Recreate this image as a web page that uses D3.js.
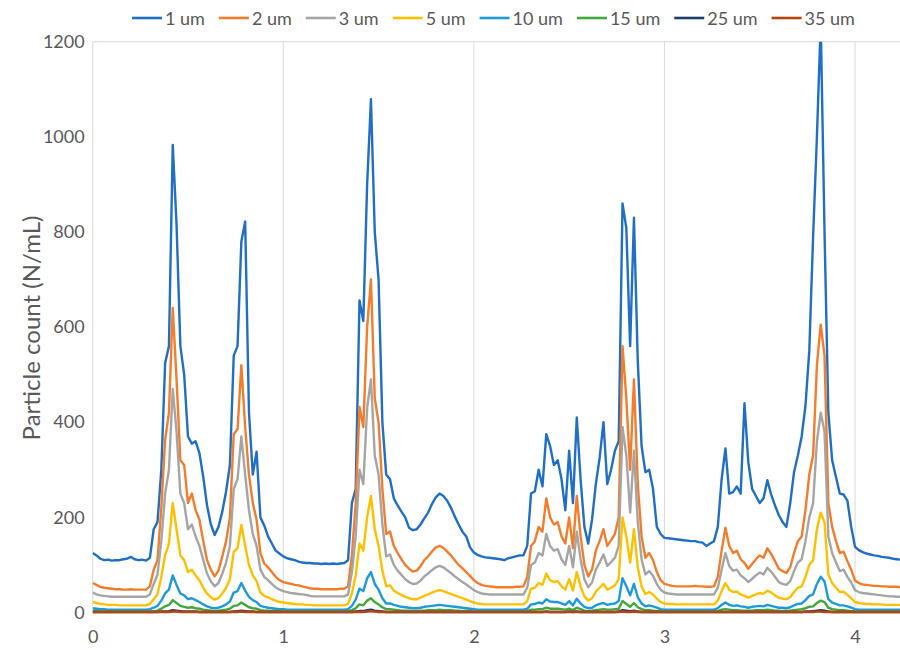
<!DOCTYPE html>
<html><head><meta charset="utf-8">
<script src="https://cdn.jsdelivr.net/npm/d3@7"></script>
<style>
body{margin:0;background:#fff}
text{font-family:Lato,"Open Sans",sans-serif}
</style>
</head><body>
<svg id="chart" width="900" height="657"></svg>
<script>
const seriesNames = ["1 um","2 um","3 um","5 um","10 um","15 um","25 um","35 um"];
const seriesColors = ["#1f6fc6","#f47d2c","#a5a5a5","#ffc000","#1e9ad9","#43a83b","#1f3e6e","#b5450d"];
const yTicks = [0,200,400,600,800,1000,1200];
const xTicks = [0,1,2,3,4];
const timeStep = 0.02;

const um1 = [125,120,113,110,111,109,110,110,112,113,
117,112,110,111,109,115,175,190,300,524,
560,983,815,560,500,370,355,360,335,285,
225,185,163,180,212,255,310,540,560,780,
822,420,290,338,200,183,160,145,130,124,
118,114,112,110,107,105,104,104,103,103,
102,103,102,103,102,103,104,110,230,260,
656,613,900,1079,800,700,400,290,280,240,
225,212,200,178,173,175,185,198,210,228,
242,250,245,235,220,202,185,170,160,137,
126,121,118,116,115,114,113,112,110,114,
116,118,120,120,140,250,255,300,265,375,
350,310,320,280,215,340,230,410,280,180,
145,195,270,325,400,270,300,340,360,860,
808,560,830,530,350,295,300,260,180,165,
157,156,155,154,153,152,151,150,150,148,
147,140,145,150,180,280,345,250,253,265,
250,440,316,260,245,230,240,278,248,225,
205,190,180,230,295,330,370,435,550,790,
1000,1240,800,420,320,285,250,248,235,180,
138,131,127,124,122,120,119,117,116,115,
113,112,111];

const um2 = [62,58,54,52,51,50,49,49,48,48,
49,48,48,48,48,55,90,110,220,363,
420,640,490,320,310,230,250,215,195,150,
110,90,76,88,118,150,200,375,385,520,
390,290,230,195,125,103,95,85,75,68,
64,62,60,58,57,55,53,51,50,50,
49,49,49,49,49,50,50,55,120,230,
432,390,600,700,450,400,260,165,170,140,
125,112,100,92,86,88,97,110,118,128,
137,140,136,128,120,110,100,93,85,77,
68,62,58,56,55,54,53,53,53,53,
53,54,54,55,75,140,150,180,170,240,
200,185,190,160,145,200,135,245,160,100,
76,90,130,150,175,140,152,165,200,560,
450,300,490,270,160,115,125,110,85,68,
60,58,56,55,55,55,55,55,56,55,
55,54,54,55,75,130,178,140,125,130,
112,104,92,102,112,120,115,135,123,108,
92,87,83,95,125,150,160,215,290,330,
520,605,540,230,180,150,125,128,108,90,
67,62,59,58,57,56,56,55,55,54,
54,54,53];

const um3 = [42,38,36,35,34,33,33,33,33,33,
33,33,33,33,33,38,60,80,150,250,
300,470,380,250,230,175,185,160,140,110,
82,65,55,62,82,105,140,260,280,370,
290,215,165,140,90,75,68,60,53,48,
45,43,41,40,39,38,37,35,34,34,
34,34,34,34,34,34,34,38,85,160,
300,270,430,490,330,290,185,118,122,100,
88,79,70,64,60,61,67,76,82,89,
95,98,95,89,83,76,70,64,59,53,
47,43,40,39,38,38,38,38,38,38,
38,38,38,38,52,100,105,125,120,165,
140,130,133,112,100,140,95,170,112,70,
53,63,90,105,122,98,106,115,140,390,
330,210,340,190,112,80,87,77,60,48,
42,40,39,38,38,38,38,38,38,38,
38,38,38,38,52,90,125,98,88,90,
78,72,64,71,78,84,80,94,86,75,
64,60,58,66,87,105,112,150,200,230,
360,420,380,160,125,105,87,90,75,63,
47,43,41,40,39,38,37,36,35,34,
34,33,33];

const um5 = [22,20,18,17,16,16,16,15,15,15,
15,15,15,15,15,18,28,38,75,120,
145,230,175,120,110,85,90,78,68,52,
40,32,27,30,40,52,70,128,135,184,
140,100,78,66,42,35,32,28,25,22,
21,20,19,18,17,17,16,16,15,15,
15,15,15,15,15,15,15,18,40,78,
145,130,200,245,175,140,88,55,57,46,
41,37,33,30,28,28,31,35,38,42,
45,47,45,42,39,36,33,30,27,24,
21,19,18,17,17,17,17,17,17,17,
17,17,17,17,24,50,52,62,58,82,
68,64,66,55,48,70,46,85,55,34,
25,30,44,52,60,48,52,57,70,200,
160,105,175,95,55,39,43,38,29,22,
19,18,18,17,17,17,17,17,17,17,
17,17,17,17,25,45,62,48,43,44,
38,35,31,35,38,41,39,46,42,36,
31,29,28,32,43,52,55,75,100,110,
175,210,190,80,62,52,43,44,37,30,
22,20,19,18,18,17,17,17,16,16,
16,16,16];

const um10 = [9,8,7,7,6,6,6,6,6,6,
6,6,6,6,6,7,10,14,25,40,
48,78,58,40,36,28,30,26,22,17,
13,10,9,10,13,17,23,42,45,62,
46,33,26,22,14,12,10,9,8,7,
7,6,6,6,6,6,6,6,6,6,
6,6,6,6,6,6,6,7,14,27,
50,45,72,85,60,48,30,19,19,16,
14,12,11,10,9,9,10,12,13,14,
15,16,15,14,13,12,11,10,9,8,
7,6,6,6,6,6,6,6,6,6,
6,6,6,6,8,17,18,21,19,28,
23,22,22,19,16,24,15,29,19,12,
9,10,15,18,20,16,18,19,24,72,
55,36,60,32,19,13,15,13,10,7,
6,6,6,6,6,6,6,6,6,6,
6,6,6,6,9,16,21,16,14,15,
13,12,10,12,13,14,13,16,14,12,
10,10,9,11,15,18,19,26,35,38,
60,75,65,28,21,18,15,15,13,10,
7,6,6,6,6,6,6,6,6,6,
6,6,6];

const um15 = [3,3,2,2,2,2,2,2,2,2,
2,2,2,2,2,2,3,4,8,13,
16,26,20,14,12,10,11,9,8,6,
5,4,3,4,5,6,8,14,15,21,
16,11,9,8,5,4,4,3,3,3,
2,2,2,2,2,2,2,2,2,2,
2,2,2,2,2,2,2,3,5,9,
17,15,25,30,22,17,11,7,7,6,
5,4,4,4,3,3,4,4,5,5,
5,6,5,5,5,4,4,3,3,3,
2,2,2,2,2,2,2,2,2,2,
2,2,2,2,3,6,6,7,7,10,
8,8,8,7,6,8,5,10,7,4,
3,4,5,6,7,6,6,7,8,24,
18,12,20,11,7,5,5,4,3,3,
2,2,2,2,2,2,2,2,2,2,
2,2,2,2,3,6,7,6,5,5,
4,4,4,4,5,5,5,6,5,4,
4,3,3,4,5,6,7,9,12,13,
20,25,22,10,7,6,5,5,4,3,
2,2,2,2,2,2,2,2,2,2,
2,2,2];

const um25 = [1,1,1,1,1,1,1,1,1,1,
1,1,1,1,1,1,1,1,2,2,
3,5,4,3,2,2,2,2,1,1,
1,1,1,1,1,1,1,2,3,4,
3,2,2,1,1,1,1,1,1,1,
1,1,1,1,1,1,1,1,1,1,
1,1,1,1,1,1,1,1,1,2,
3,3,5,6,4,3,2,1,1,1,
1,1,1,1,1,1,1,1,1,1,
1,1,1,1,1,1,1,1,1,1,
1,1,1,1,1,1,1,1,1,1,
1,1,1,1,1,1,1,1,1,2,
1,1,1,1,1,2,1,2,1,1,
1,1,1,1,1,1,1,1,2,5,
4,3,4,2,1,1,1,1,1,1,
1,1,1,1,1,1,1,1,1,1,
1,1,1,1,1,1,1,1,1,1,
1,1,1,1,1,1,1,1,1,1,
1,1,1,1,1,1,1,2,2,3,
4,5,4,2,1,1,1,1,1,1,
1,1,1,1,1,1,1,1,1,1,
1,1,1];

const um35 = [1,1,1,1,1,1,1,1,1,1,
1,1,1,1,1,1,1,1,1,1,
1,2,2,1,1,1,1,1,1,1,
1,1,1,1,1,1,1,1,1,2,
1,1,1,1,1,1,1,1,1,1,
1,1,1,1,1,1,1,1,1,1,
1,1,1,1,1,1,1,1,1,1,
1,1,2,3,2,1,1,1,1,1,
1,1,1,1,1,1,1,1,1,1,
1,1,1,1,1,1,1,1,1,1,
1,1,1,1,1,1,1,1,1,1,
1,1,1,1,1,1,1,1,1,1,
1,1,1,1,1,1,1,1,1,1,
1,1,1,1,1,1,1,1,1,2,
1,1,2,1,1,1,1,1,1,1,
1,1,1,1,1,1,1,1,1,1,
1,1,1,1,1,1,1,1,1,1,
1,1,1,1,1,1,1,1,1,1,
1,1,1,1,1,1,1,1,1,1,
2,2,1,1,1,1,1,1,1,1,
1,1,1,1,1,1,1,1,1,1,
1,1,1];

const seriesValues = [um1, um2, um3, um5, um10, um15, um25, um35];
const time = um1.map((_, i) => +(i * timeStep).toFixed(2));

const svg = d3.select("#chart");
const plotLeft = 92.7, plotRight = 900, plotTop = 41.7, plotBottom = 612.5;
const x = d3.scaleLinear().domain([0, 4.236]).range([plotLeft, plotRight]);
const y = d3.scaleLinear().domain([0, 1200]).range([plotBottom, plotTop]);
const gridColor = "#d9d9d9", textColor = "#595959";

svg.append("g").selectAll("line").data(xTicks.filter(d => d > 0)).join("line")
  .attr("x1", d => x(d)).attr("x2", d => x(d))
  .attr("y1", plotTop).attr("y2", plotBottom)
  .attr("stroke", gridColor).attr("stroke-width", 1);
svg.append("line").attr("x1", plotLeft).attr("x2", plotRight).attr("y1", y(1200)).attr("y2", y(1200))
  .attr("stroke", gridColor);
svg.append("line").attr("x1", plotLeft).attr("x2", plotLeft).attr("y1", plotTop).attr("y2", plotBottom)
  .attr("stroke", gridColor);
svg.append("line").attr("x1", plotLeft).attr("x2", plotRight).attr("y1", plotBottom).attr("y2", plotBottom)
  .attr("stroke", gridColor);

const yAxis = svg.append("g").attr("transform", `translate(${plotLeft},0)`)
  .call(d3.axisLeft(y).tickValues(yTicks).tickSize(0).tickPadding(8).tickFormat(d3.format("d")));
yAxis.select(".domain").remove();
yAxis.selectAll("text").attr("font-size", 18).attr("fill", textColor).style("font-family", "Lato");

const xAxis = svg.append("g").attr("transform", `translate(0,${plotBottom})`)
  .call(d3.axisBottom(x).tickValues(xTicks).tickSize(0).tickPadding(18).tickFormat(d3.format("d")));
xAxis.select(".domain").remove();
xAxis.selectAll("text").attr("font-size", 18).attr("fill", textColor).style("font-family", "Lato");

svg.append("text")
  .attr("transform", "translate(30,328) rotate(-90)")
  .attr("text-anchor", "middle").attr("dominant-baseline", "central")
  .attr("font-size", 24).attr("fill", textColor)
  .text("Particle count (N/mL)");

svg.append("clipPath").attr("id", "plotclip").append("rect")
  .attr("x", plotLeft).attr("y", plotTop).attr("width", plotRight - plotLeft).attr("height", plotBottom - plotTop + 4);

const line = d3.line().x((d, i) => x(time[i])).y(d => y(d));
svg.append("g").attr("clip-path", "url(#plotclip)")
  .selectAll("path").data(seriesValues).join("path")
  .attr("d", d => line(d))
  .attr("fill", "none")
  .attr("stroke", (d, i) => seriesColors[i])
  .attr("stroke-width", 2.4)
  .attr("stroke-linejoin", "round");

const legend = svg.append("g");
let lx = 132;
seriesNames.forEach((name, i) => {
  legend.append("line").attr("x1", lx).attr("x2", lx + 30).attr("y1", 18).attr("y2", 18)
    .attr("stroke", seriesColors[i]).attr("stroke-width", 2.6);
  const t = legend.append("text").attr("x", lx + 33).attr("y", 18)
    .attr("dominant-baseline", "central").attr("font-size", 18).attr("fill", textColor)
    .text(name);
  lx += 33 + t.node().getComputedTextLength() + 14;
});
</script>
</body></html>
